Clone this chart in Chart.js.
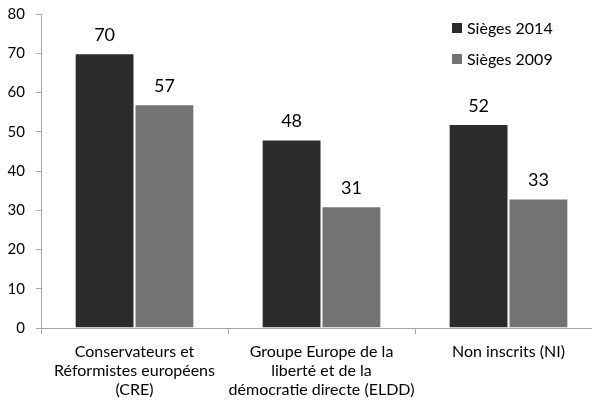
<!DOCTYPE html>
<html>
<head>
<meta charset="utf-8">
<script src="https://cdn.jsdelivr.net/npm/chart.js@4/dist/chart.umd.min.js"></script>
<style>
  html,body{margin:0;padding:0;background:#fff;overflow:hidden;}
  #wrap{width:602px;height:404px;}
</style>
</head>
<body>
<div id="wrap"><canvas id="c" width="602" height="404"></canvas></div>
<script>
// ---- données ----
const groupes = [
  ["Conservateurs et", "Réformistes européens", "(CRE)"],
  ["Groupe Europe de la", "liberté et de la", "démocratie directe (ELDD)"],
  ["Non inscrits (NI)"]
];
const sieges2014 = [70, 48, 52];
const sieges2009 = [57, 31, 33];
const yTicks = [0, 10, 20, 30, 40, 50, 60, 70, 80];

const FONT = "Lato, 'Open Sans', sans-serif";

// étiquettes au-dessus des barres
const valueLabels = {
  id: 'valueLabels',
  afterDatasetsDraw(chart){
    const ctx = chart.ctx;
    ctx.save();
    ctx.font = "18px " + FONT;
    ctx.fillStyle = "#000";
    ctx.textAlign = "center";
    ctx.textBaseline = "bottom";
    chart.data.datasets.forEach((ds, i) => {
      chart.getDatasetMeta(i).data.forEach((bar, j) => {
        ctx.fillText(ds.data[j], bar.x, bar.y - 9);
      });
    });
    ctx.restore();
  }
};

// légende dans le coin haut droit
const cornerLegend = {
  id: 'cornerLegend',
  afterDraw(chart){
    const ctx = chart.ctx;
    ctx.save();
    ctx.font = "16px " + FONT;
    ctx.textBaseline = "middle";
    ctx.textAlign = "left";
    chart.data.datasets.forEach((ds, i) => {
      const y = 28 + i * 31;
      ctx.fillStyle = ds.backgroundColor;
      ctx.fillRect(452, y - 5, 10, 10);
      ctx.fillStyle = "#000";
      ctx.fillText(ds.label, 467, y + 1);
    });
    ctx.restore();
  }
};

new Chart(document.getElementById('c').getContext('2d'), {
  type: 'bar',
  data: {
    labels: groupes,
    datasets: [
      {label: 'Sièges 2014', data: sieges2014, backgroundColor: '#2b2b2b',
       borderColor: 'rgba(255,255,255,0.55)', borderWidth: 1},
      {label: 'Sièges 2009', data: sieges2009, backgroundColor: '#737373',
       borderColor: 'rgba(255,255,255,0.55)', borderWidth: 1}
    ]
  },
  options: {
    responsive: false,
    animation: false,
    layout: {padding: {top: 14, right: 0, left: 0, bottom: 0}},
    plugins: {legend: {display: false}, tooltip: {enabled: false}},
    datasets: {bar: {categoryPercentage: 0.64, barPercentage: 1.0}},
    scales: {
      x: {
        grid: {display: true, drawOnChartArea: false, offset: true, color: '#a6a6a6', tickLength: 6},
        border: {color: '#a6a6a6'},
        ticks: {color: '#000', font: {family: FONT, size: 16}, padding: 8, maxRotation: 0, autoSkip: false},
        afterFit(s){ s.height = 76; s.paddingLeft = 0; s.paddingRight = 0; }
      },
      y: {
        min: 0, max: 80,
        afterBuildTicks(s){ s.ticks = yTicks.map(v => ({value: v})); },
        grid: {display: true, drawOnChartArea: false, color: '#a6a6a6', tickLength: 5},
        border: {color: '#a6a6a6'},
        ticks: {color: '#000', font: {family: FONT, size: 15}, padding: 11},
        afterFit(s){ s.width = 41; s.paddingTop = 0; s.paddingBottom = 0; }
      }
    }
  },
  plugins: [valueLabels, cornerLegend]
});
</script>
</body>
</html>
